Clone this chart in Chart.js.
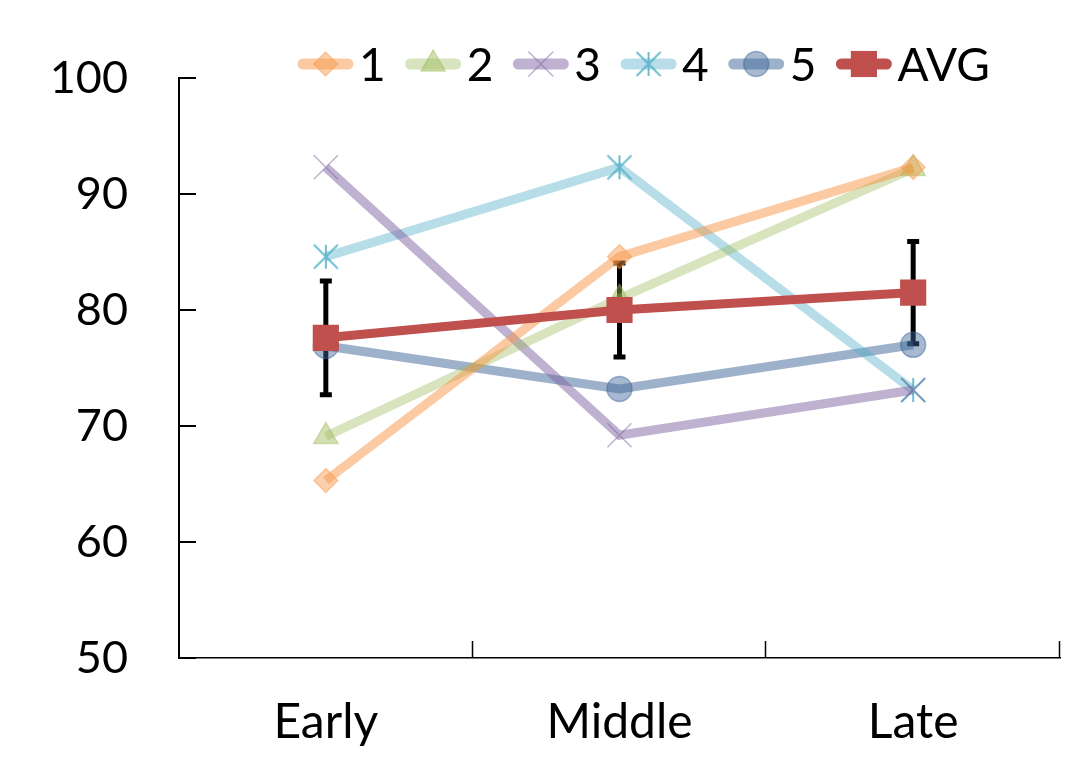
<!DOCTYPE html>
<html>
<head>
<meta charset="utf-8">
<script src="https://cdn.jsdelivr.net/npm/chart.js@4/dist/chart.umd.min.js"></script>
<style>
  html, body { margin: 0; padding: 0; background: #ffffff; }
  #wrap { width: 1082px; height: 762px; }
</style>
</head>
<body>
<div id="wrap"><canvas id="c" width="1082" height="762"></canvas></div>
<script>
// Phases on the x axis
const categories = ['Early', 'Middle', 'Late'];
// Individual series
const s1 = [65.3, 84.6, 92.3];
const s2 = [69.1, 81.0, 92.2];
const s3 = [92.3, 69.2, 73.1];
const s4 = [84.6, 92.3, 73.1];
const s5 = [76.9, 73.2, 77.0];
// Average and its spread (+/-)
const avg = [77.6, 80.0, 81.5];
const avgErr = [4.9, 4.05, 4.4];
// Value axis
const yMin = 50, yMax = 100, yStep = 10;

const FONT = 'Lato, "Open Sans", "Liberation Sans", sans-serif';

// Asterisk marker (vertical bar plus diagonal cross)
function makeAsterisk(color, half) {
  const size = half * 2 + 4;
  const cv = document.createElement('canvas');
  cv.width = size; cv.height = size;
  const g = cv.getContext('2d');
  const c = size / 2;
  g.strokeStyle = color;
  g.lineWidth = 2;
  g.beginPath();
  g.moveTo(c, c - half); g.lineTo(c, c + half);
  g.moveTo(c - half, c - half); g.lineTo(c + half, c + half);
  g.moveTo(c + half, c - half); g.lineTo(c - half, c + half);
  g.stroke();
  return cv;
}

const series = [
  { label: '1', data: s1, line: 'rgba(247,150,70,0.5)', fill: 'rgba(247,150,70,0.45)', style: 'rectRot', radius: 12 },
  { label: '2', data: s2, line: 'rgba(155,187,89,0.4)', fill: 'rgba(155,187,89,0.45)', style: 'triangle', radius: 14 },
  { label: '3', data: s3, line: 'rgba(128,100,162,0.5)', fill: 'rgba(128,100,162,0.5)', style: 'crossRot', radius: 17 },
  { label: '4', data: s4, line: 'rgba(75,172,198,0.4)', fill: 'rgba(75,172,198,0.8)', style: makeAsterisk('rgba(75,172,198,0.8)', 12), radius: 12 },
  { label: '5', data: s5, line: 'rgba(60,100,150,0.5)', fill: 'rgba(60,100,150,0.45)', style: 'circle', radius: 12.5 },
];
const avgStyle = { label: 'AVG', data: avg, line: '#C0504D', fill: '#C0504D', style: 'rect', radius: 18.5 };

const datasets = series.map(s => ({
  label: s.label,
  data: s.data,
  borderColor: s.line,
  borderWidth: 9,
  backgroundColor: s.fill,
  pointStyle: s.style,
  pointRadius: s.radius,
  pointBackgroundColor: s.fill,
  pointBorderColor: s.fill,
  pointBorderWidth: 1.5,
  tension: 0,
  order: 1
}));
datasets.push({
  label: avgStyle.label,
  data: avgStyle.data,
  borderColor: avgStyle.line,
  borderWidth: 9,
  backgroundColor: avgStyle.fill,
  pointStyle: avgStyle.style,
  pointRadius: avgStyle.radius,
  pointBackgroundColor: avgStyle.fill,
  pointBorderColor: avgStyle.fill,
  pointBorderWidth: 0,
  tension: 0,
  order: 0
});

// Error bars on the average line, drawn underneath the markers
const errorBars = {
  id: 'errorBars',
  beforeDatasetsDraw(chart) {
    const { ctx, scales: { x, y } } = chart;
    ctx.save();
    ctx.strokeStyle = '#000';
    ctx.lineCap = 'butt';
    avg.forEach((v, i) => {
      const px = x.getPixelForValue(i);
      const top = y.getPixelForValue(v + avgErr[i]);
      const bot = y.getPixelForValue(v - avgErr[i]);
      ctx.lineWidth = 5;
      ctx.beginPath();
      ctx.moveTo(px, top); ctx.lineTo(px, bot);
      ctx.stroke();
      ctx.beginPath();
      ctx.moveTo(px - 6, top); ctx.lineTo(px + 6, top);
      ctx.moveTo(px - 6, bot); ctx.lineTo(px + 6, bot);
      ctx.stroke();
    });
    ctx.restore();
  }
};

// Inward tick marks on both axes
const innerTicks = {
  id: 'innerTicks',
  beforeDatasetsDraw(chart) {
    const { ctx, chartArea, scales: { x, y } } = chart;
    ctx.save();
    ctx.strokeStyle = '#000';
    ctx.lineWidth = 2;
    ctx.beginPath();
    y.ticks.forEach(t => {
      const py = Math.round(y.getPixelForValue(t.value));
      ctx.moveTo(chartArea.left, py);
      ctx.lineTo(chartArea.left + 17, py);
    });
    ctx.stroke();
    ctx.lineWidth = 1.5;
    ctx.beginPath();
    const half = (x.getPixelForValue(1) - x.getPixelForValue(0)) / 2;
    categories.forEach((c, i) => {
      const px = Math.round(x.getPixelForValue(i) + half) - 0.5;
      ctx.moveTo(px, chartArea.bottom);
      ctx.lineTo(px, chartArea.bottom - 17);
    });
    ctx.stroke();
    ctx.restore();
  }
};

// Legend with line + marker samples across the top
const lineLegend = {
  id: 'lineLegend',
  afterDraw(chart) {
    const { ctx } = chart;
    const items = series.concat([avgStyle]);
    const cy = 64;
    let x0 = 297;
    ctx.save();
    ctx.font = '46px ' + FONT;
    ctx.textBaseline = 'middle';
    ctx.textAlign = 'left';
    items.forEach(it => {
      ctx.strokeStyle = it.line;
      ctx.lineWidth = 11;
      ctx.lineCap = 'round';
      ctx.beginPath();
      ctx.moveTo(x0 + 6, cy);
      ctx.lineTo(x0 + 51, cy);
      ctx.stroke();
      const cx = x0 + 28.5;
      ctx.fillStyle = it.fill;
      ctx.strokeStyle = it.fill;
      ctx.lineWidth = 1.5;
      Chart.helpers.drawPoint(ctx, {
        pointStyle: it.style, radius: it.radius, rotation: 0,
        borderWidth: it === avgStyle ? 0 : 1.5
      }, cx, cy);
      ctx.fillStyle = '#000';
      const tx = x0 + 62;
      ctx.fillText(it.label, tx, cy + 2);
      x0 = tx + ctx.measureText(it.label).width + 19;
    });
    ctx.restore();
  }
};

new Chart(document.getElementById('c'), {
  type: 'line',
  data: { labels: categories, datasets },
  plugins: [errorBars, innerTicks, lineLegend],
  options: {
    responsive: false,
    animation: false,
    devicePixelRatio: 1,
    layout: { padding: { top: 78, right: 22, left: 0, bottom: 0 } },
    plugins: {
      legend: { display: false },
      tooltip: { enabled: false }
    },
    scales: {
      x: {
        type: 'category',
        offset: true,
        grid: { display: false, drawTicks: false, offset: true },
        border: { display: true, color: '#000', width: 1.5 },
        ticks: { color: '#000', font: { family: FONT, size: 48 }, padding: 36, maxRotation: 0 },
        afterFit(s) { s.height = 104; }
      },
      y: {
        min: yMin, max: yMax,
        grid: { display: false, drawTicks: false },
        border: { display: true, color: '#000', width: 2 },
        ticks: { stepSize: yStep, color: '#000', font: { family: FONT, size: 45 }, padding: 51 },
        afterFit(s) { s.width = 179; }
      }
    }
  }
});
</script>
</body>
</html>
